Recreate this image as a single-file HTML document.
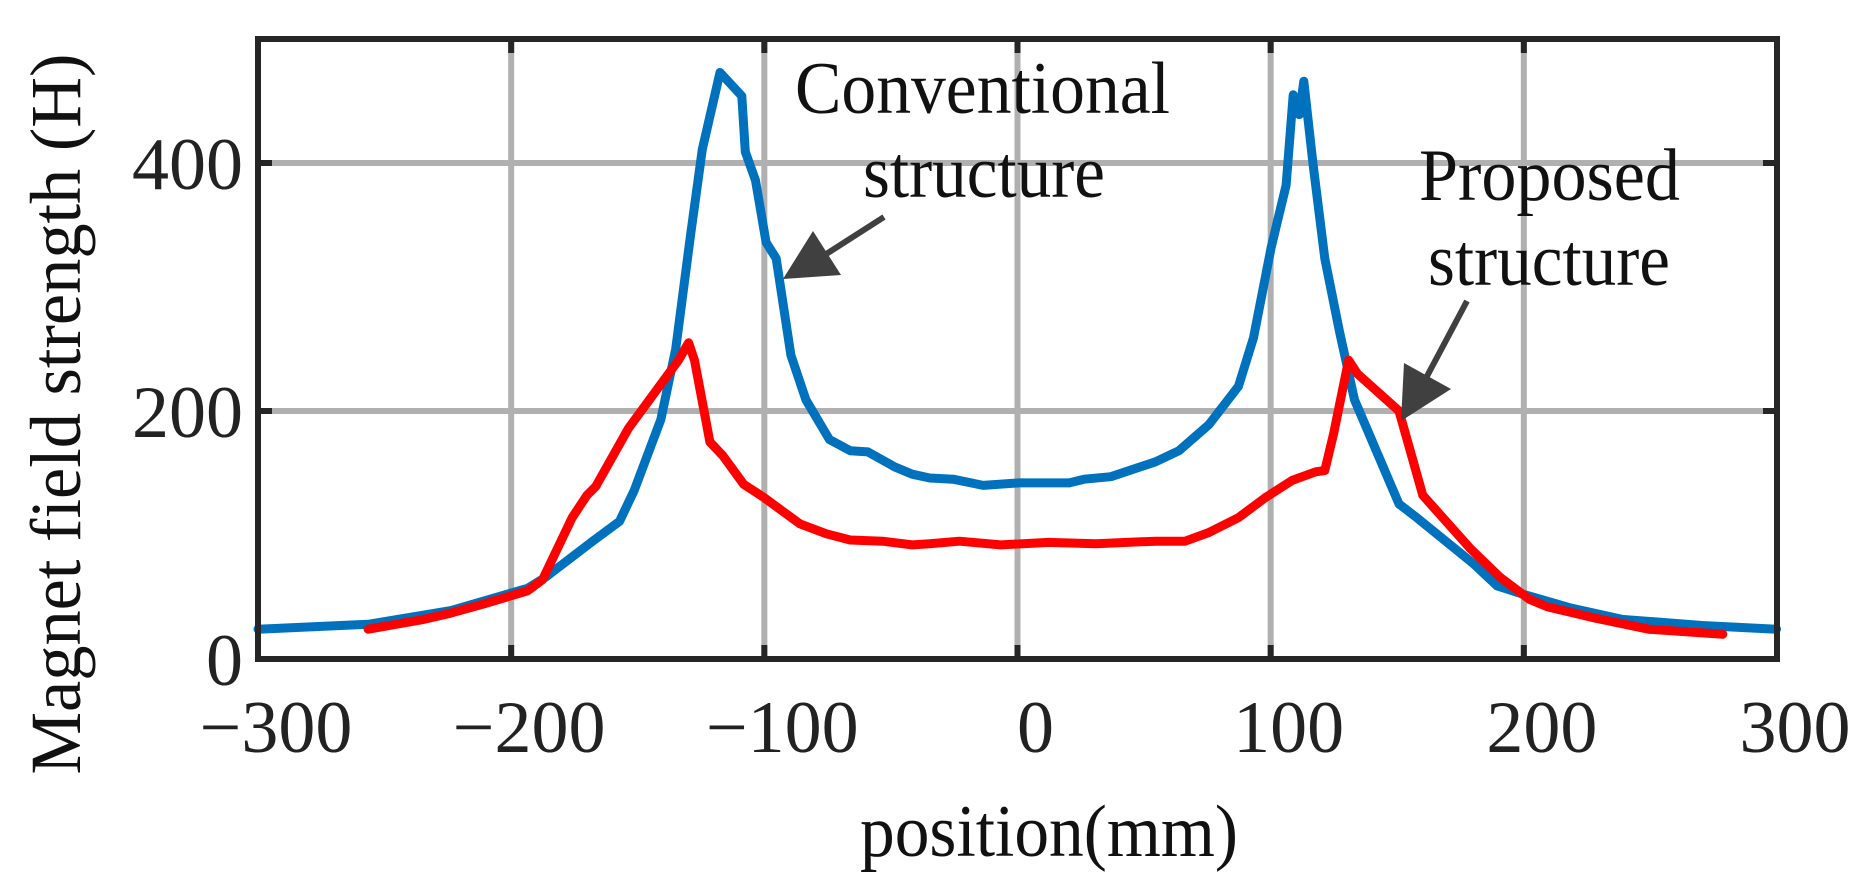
<!DOCTYPE html>
<html><head><meta charset="utf-8"><style>
html,body{margin:0;padding:0;background:#fff;}
svg{display:block;font-family:"Liberation Serif",serif;}
</style></head><body>
<svg id="chart" width="1860" height="875" viewBox="0 0 1860 875" xmlns="http://www.w3.org/2000/svg">
<g id="grid"></g>
<g id="series"></g>
<g id="axes"></g>
<g id="labels"></g>
<text transform="translate(80,414) rotate(-90)" text-anchor="middle" font-size="72" textLength="721" lengthAdjust="spacingAndGlyphs" fill="#111">Magnet field strength (H)</text>
<text x="1049" y="856" text-anchor="middle" font-size="74" textLength="378" lengthAdjust="spacingAndGlyphs" fill="#111">position(mm)</text>
<text x="795" y="113" font-size="74" textLength="375" lengthAdjust="spacingAndGlyphs" fill="#111">Conventional</text>
<text x="863" y="197" font-size="74" textLength="242" lengthAdjust="spacingAndGlyphs" fill="#111">structure</text>
<text x="1419" y="200" font-size="74" textLength="261" lengthAdjust="spacingAndGlyphs" fill="#111">Proposed</text>
<text x="1428" y="285" font-size="74" textLength="242" lengthAdjust="spacingAndGlyphs" fill="#111">structure</text>
<g>
<line x1="884" y1="217" x2="820" y2="258" stroke="#404040" stroke-width="6"/>
<polygon points="783,279 813,231 841,275" fill="#404040"/>
</g>
<g>
<line x1="1467" y1="301" x2="1425" y2="380" stroke="#404040" stroke-width="6"/>
<polygon points="1401,421 1404,363 1451,389" fill="#404040"/>
</g>
</svg>
<script>
const xTicks = [-300, -200, -100, 0, 100, 200, 300];
const yTicks = [0, 200, 400];
const blueX = [-300,-256.5,-223.8,-193.5,-186.4,-167.8,-157.2,-151.4,-140.9,-135,-129.2,-124.5,-117.5,-108.9,-107.5,-103.5,-99.3,-95.3,-89.5,-83.6,-74.3,-66.1,-59.1,-48.6,-41.6,-34.7,-25.4,-13.6,0.5,20.4,26.3,36.9,54.5,63.8,75.6,87.3,93.2,100.2,106.1,108.9,111.3,113.1,116.7,121.4,127.2,133.1,150.7,157.7,180,189.4,200,218.8,238.7,270.4,299.8];
const blueY = [24,28,39,57,66,95,111,136,193,250,341,411,473,454,409,386,336,323,245,209,177,168,167,155,149,146,145,140,142,142,145,147,159,168,189,220,259,332,382,455,439,466,400,323,264,209,125,114,77,59,52,41,32,27,24];
const redX = [-256.5,-234.3,-223.8,-209.8,-193.5,-187.6,-175.9,-170.1,-166.6,-153.7,-133.9,-129.9,-127.6,-121.5,-116.4,-108.2,-100,-86,-75.5,-66.1,-53.3,-41.6,-34.7,-23,-6.6,12.2,31,54.5,66.2,75.6,87.3,97.8,108.5,117.8,121.4,124.9,130.8,134.3,150.7,160.1,178.9,190.6,202.3,209.4,228.2,249.3,278.6];
const redY = [24,32,37,45,55,64,114,132,139,186,241,255,241,175,164,141,130,109,101,96,95,92,93,95,92,94,93,95,95,102,114,130,144,151,152,182,241,230,200,132,89,66,48,42,33,24,20];

const L=258, R=1777, T=39, B=659;
const sx = v => L + (v + 300) / 600 * (R - L);
const sy = v => B - v / 500 * (B - T);
const NS='http://www.w3.org/2000/svg';
function mk(tag, parent, attrs){const e=document.createElementNS(NS,tag);for(const k in attrs)e.setAttribute(k,attrs[k]);parent.appendChild(e);return e;}
const grid=document.getElementById('grid'), axes=document.getElementById('axes'), labels=document.getElementById('labels'), series=document.getElementById('series');
xTicks.forEach(t=>{
  const g=mk('line',grid,{x1:sx(t),x2:sx(t),y1:T,y2:B,stroke:'#b0b0b0','stroke-width':6});
  
  
  const tk=mk('line',axes,{x1:sx(t),x2:sx(t),y1:B,y2:B-14,stroke:'#262626','stroke-width':6});
  
  
  const tk2=mk('line',axes,{x1:sx(t),x2:sx(t),y1:T,y2:T+14,stroke:'#262626','stroke-width':6});
  
  
  const tx=mk('text',labels,{x:sx(t)+18,y:752,'text-anchor':'middle','font-size':74,fill:'#222'});
  tx.textContent = t<0 ? '\u2212'+Math.abs(t) : String(t);
  
  
});
yTicks.forEach(t=>{
  const g=mk('line',grid,{x1:L,x2:R,y1:sy(t),y2:sy(t),stroke:'#b0b0b0','stroke-width':6});
  
  
  const tk=mk('line',axes,{x1:L,x2:L+14,y1:sy(t),y2:sy(t),stroke:'#262626','stroke-width':6});
  
  
  const tk2=mk('line',axes,{x1:R,x2:R-14,y1:sy(t),y2:sy(t),stroke:'#262626','stroke-width':6});
  
  
  const tx=mk('text',labels,{x:243,y:sy(t)+26,'text-anchor':'end','font-size':74,fill:'#222'});
  tx.textContent=String(t);
  
  
});
const box=mk('rect',axes,{x:L,y:T,width:R-L,height:B-T,fill:'none',stroke:'#262626','stroke-width':6});


function line(xs,ys,color,name){
  const d=xs.map((x,i)=>(i?'L':'M')+sx(x).toFixed(1)+','+sy(ys[i]).toFixed(1)).join(' ');
  const p=mk('path',series,{d:d,fill:'none',stroke:color,'stroke-width':9,'stroke-linejoin':'round','stroke-linecap':'round'});
  
  
}
line(blueX,blueY,'#0072BD','conventional-line');
line(redX,redY,'#FF0000','proposed-line');
</script>
</body></html>
